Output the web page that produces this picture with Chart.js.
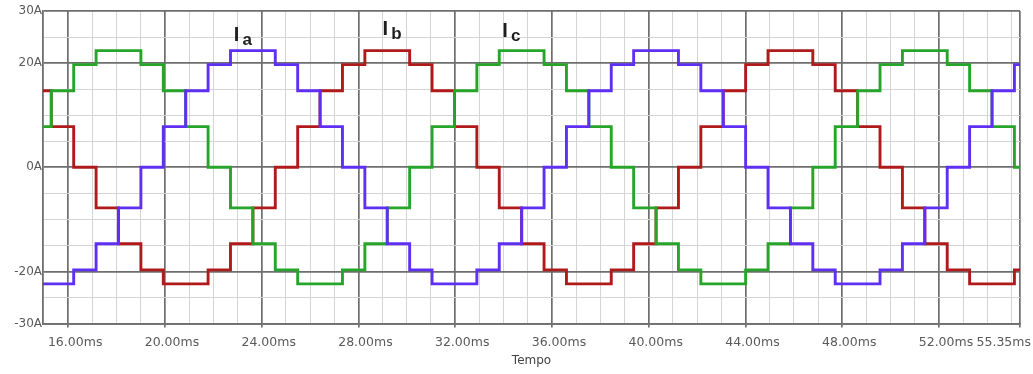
<!DOCTYPE html>
<html lang="pt">
<head>
<meta charset="UTF-8">
<title>Correntes Ia, Ib, Ic</title>
<script src="https://cdn.jsdelivr.net/npm/chart.js"></script>
<style>
    html, body { margin: 0; padding: 0; background: #fff; }
    .wrap { width: 1033px; height: 374px; position: relative; }
</style>
</head>
<body>
<div class="wrap"><canvas id="chart"></canvas></div>
<script>
// switching instants (ms) - the three phases change level at the same instants
const tSwitch = [14.96,
    15.303, 16.229, 17.155, 18.081, 19.007, 19.933, 20.859, 21.785, 22.711, 23.637,
    24.563, 25.489, 26.414, 27.340, 28.266, 29.192, 30.118, 31.044, 31.970, 32.896,
    33.822, 34.748, 35.674, 36.600, 37.526, 38.452, 39.378, 40.304, 41.230, 42.156,
    43.081, 44.007, 44.933, 45.859, 46.785, 47.711, 48.637, 49.563, 50.489, 51.415,
    52.341, 53.267, 54.193, 55.119,
    55.35];

// current level (A) from each instant on
const ia = [-22.4, -22.4, -19.7, -14.7, -7.8, 0, 7.8, 14.7, 19.7, 22.4,
    22.4, 19.7, 14.7, 7.8, 0, -7.8, -14.7, -19.7, -22.4, -22.4,
    -19.7, -14.7, -7.8, 0, 7.8, 14.7, 19.7, 22.4, 22.4, 19.7,
    14.7, 7.8, 0, -7.8, -14.7, -19.7, -22.4, -22.4, -19.7, -14.7,
    -7.8, 0, 7.8, 14.7, 19.7, 19.7];
const ib = [14.7, 7.8, 0, -7.8, -14.7, -19.7, -22.4, -22.4, -19.7, -14.7,
    -7.8, 0, 7.8, 14.7, 19.7, 22.4, 22.4, 19.7, 14.7, 7.8,
    0, -7.8, -14.7, -19.7, -22.4, -22.4, -19.7, -14.7, -7.8, 0,
    7.8, 14.7, 19.7, 22.4, 22.4, 19.7, 14.7, 7.8, 0, -7.8,
    -14.7, -19.7, -22.4, -22.4, -19.7, -19.7];
const ic = [7.8, 14.7, 19.7, 22.4, 22.4, 19.7, 14.7, 7.8, 0, -7.8,
    -14.7, -19.7, -22.4, -22.4, -19.7, -14.7, -7.8, 0, 7.8, 14.7,
    19.7, 22.4, 22.4, 19.7, 14.7, 7.8, 0, -7.8, -14.7, -19.7,
    -22.4, -22.4, -19.7, -14.7, -7.8, 0, 7.8, 14.7, 19.7, 22.4,
    22.4, 19.7, 14.7, 7.8, 0, 0];

const xMin = 14.96, xMax = 55.35;
const xLabelTicks = [16, 20, 24, 28, 32, 36, 40, 44, 48, 52, 55.35];
const yLabelTicks = [-30, -20, 0, 20, 30];

// phase labels (I + subscript), placed in data units
const phaseSub = ['a', 'b', 'c'];
const phaseLabelX = [22.85, 29.0, 33.95];
const phaseLabelY = [24.2, 25.3, 25.0];

const gridMajor = '#6e6e6e';
const gridMinor = '#d4d4d4';

function points(levels) {
    return tSwitch.map((t, i) => ({ x: t, y: levels[i] }));
}
function isMajorX(v) {
    return xLabelTicks.includes(v);
}
function isMajorY(v) {
    return yLabelTicks.includes(v);
}

const labelsPlugin = {
    id: 'labels',
    afterDraw(chart) {
        const ctx = chart.ctx;
        const xs = chart.scales.x, ys = chart.scales.y;
        ctx.save();
        // time tick labels
        ctx.font = '12.5px "DejaVu Sans"';
        ctx.fillStyle = '#5a5a5a';
        ctx.textBaseline = 'alphabetic';
        xLabelTicks.forEach((v, i) => {
            const px = xs.getPixelForValue(v);
            if (i === xLabelTicks.length - 1) {
                ctx.textAlign = 'right';
                ctx.fillText(v.toFixed(2) + 'ms', chart.width - 2, 346);
            } else {
                ctx.textAlign = 'center';
                ctx.fillText(v.toFixed(2) + 'ms', px + 7, 346);
            }
        });
        // I_a, I_b, I_c
        ctx.fillStyle = '#1e1e1e';
        ctx.textAlign = 'left';
        phaseSub.forEach((s, i) => {
            const px = xs.getPixelForValue(phaseLabelX[i]);
            const py = ys.getPixelForValue(phaseLabelY[i]);
            ctx.font = 'bold 20px "Liberation Sans"';
            ctx.fillText('I', px, py);
            const w = ctx.measureText('I').width;
            ctx.font = 'bold 17px "Liberation Sans"';
            ctx.fillText(s, px + w + 3, py + 4);
        });
        ctx.restore();
    }
};

const trace = (label, levels, color, order) => ({
    label: label,
    data: points(levels),
    borderColor: color,
    borderWidth: 2.9,
    stepped: true,
    pointRadius: 0,
    fill: false,
    order: order
});

new Chart(document.getElementById('chart'), {
    type: 'line',
    data: {
        datasets: [
            trace('Ia', ia, '#5f30f4', 0),
            trace('Ic', ic, '#27a52a', 1),
            trace('Ib', ib, '#b01a1a', 2)
        ]
    },
    options: {
        responsive: true,
        maintainAspectRatio: false,
        animation: false,
        layout: { padding: { top: 11, right: 13, left: 0, bottom: 0 } },
        plugins: {
            legend: { display: false },
            tooltip: { enabled: false }
        },
        scales: {
            x: {
                type: 'linear',
                min: xMin,
                max: xMax,
                afterBuildTicks: s => {
                    const t = [];
                    for (let v = 15; v <= 55; v++) t.push({ value: v });
                    t.push({ value: 55.35 });
                    s.ticks = t;
                },
                afterFit: s => { s.height = 50.5; s.paddingLeft = 0; s.paddingRight = 0; },
                ticks: { display: false },
                grid: {
                    color: c => isMajorX(c.tick.value) ? gridMajor : gridMinor,
                    lineWidth: c => isMajorX(c.tick.value) ? 1.7 : 1,
                    tickColor: c => isMajorX(c.tick.value) ? gridMajor : 'rgba(0,0,0,0)',
                    tickLength: 4
                },
                border: { color: gridMajor, width: 1.7 },
                title: {
                    display: true,
                    text: 'Tempo',
                    color: '#444',
                    font: { family: 'DejaVu Sans', size: 12 },
                    padding: { top: 0, bottom: 6 }
                }
            },
            y: {
                min: -30,
                max: 30,
                afterBuildTicks: s => {
                    const t = [];
                    for (let v = -30; v <= 30; v += 5) t.push({ value: v });
                    s.ticks = t;
                },
                afterFit: s => { s.width = 43; },
                ticks: {
                    autoSkip: false,
                    padding: 1,
                    color: '#5a5a5a',
                    font: { family: 'DejaVu Sans', size: 12 },
                    callback: v => isMajorY(v) ? v + 'A' : ''
                },
                grid: {
                    color: c => isMajorY(c.tick.value) ? gridMajor : gridMinor,
                    lineWidth: c => isMajorY(c.tick.value) ? 1.7 : 1,
                    drawTicks: false
                },
                border: { color: gridMajor, width: 1.7 }
            }
        }
    },
    plugins: [labelsPlugin]
});
</script>
</body>
</html>
